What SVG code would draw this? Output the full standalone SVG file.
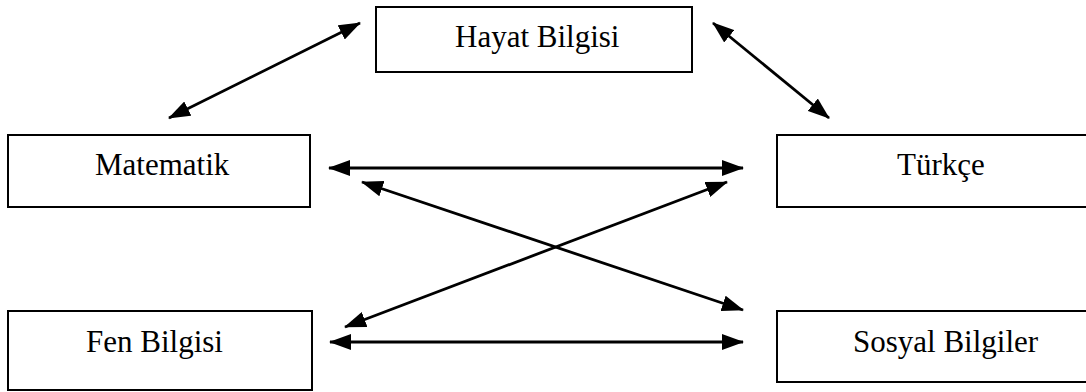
<svg xmlns="http://www.w3.org/2000/svg" width="1086" height="392" viewBox="0 0 1086 392">
<style>
.box{fill:#fff;stroke:#000;stroke-width:2}
.lbl{font-family:"Liberation Serif","Times New Roman",serif;font-size:31px;fill:#000}
.conn line{stroke:#000;stroke-width:2.8;marker-start:url(#ah);marker-end:url(#ah)}
</style>
<defs>
<marker id="ah" markerUnits="userSpaceOnUse" markerWidth="22" markerHeight="16" refX="21" refY="8" orient="auto-start-reverse" viewBox="0 0 22 16">
<path d="M0,0 L22,8 L0,16 z" fill="#000"/>
</marker>
</defs>
<rect width="1086" height="392" fill="#fff"/>
<g id="hayat"><rect class="box" x="376" y="7" width="316" height="65"/><text class="lbl" x="455" y="47">Hayat Bilgisi</text></g>
<g id="matematik"><rect class="box" x="8" y="135" width="302" height="72"/><text class="lbl" x="95" y="175">Matematik</text></g>
<g id="turkce"><rect class="box" x="777" y="135" width="320" height="72"/><text class="lbl" x="897" y="175">Türkçe</text></g>
<g id="fen"><rect class="box" x="8" y="311" width="304" height="79"/><text class="lbl" x="86" y="352">Fen Bilgisi</text></g>
<g id="sosyal"><rect class="box" x="777" y="311" width="320" height="71"/><text class="lbl" x="853" y="352">Sosyal Bilgiler</text></g>
<g id="connectors" class="conn">
<line x1="169" y1="118" x2="360" y2="23"/>
<line x1="713" y1="23" x2="829" y2="118"/>
<line x1="329" y1="168" x2="743" y2="168"/>
<line x1="362" y1="182" x2="743" y2="310"/>
<line x1="345" y1="327" x2="727" y2="182"/>
<line x1="330" y1="342" x2="743" y2="342"/>
</g>
</svg>
